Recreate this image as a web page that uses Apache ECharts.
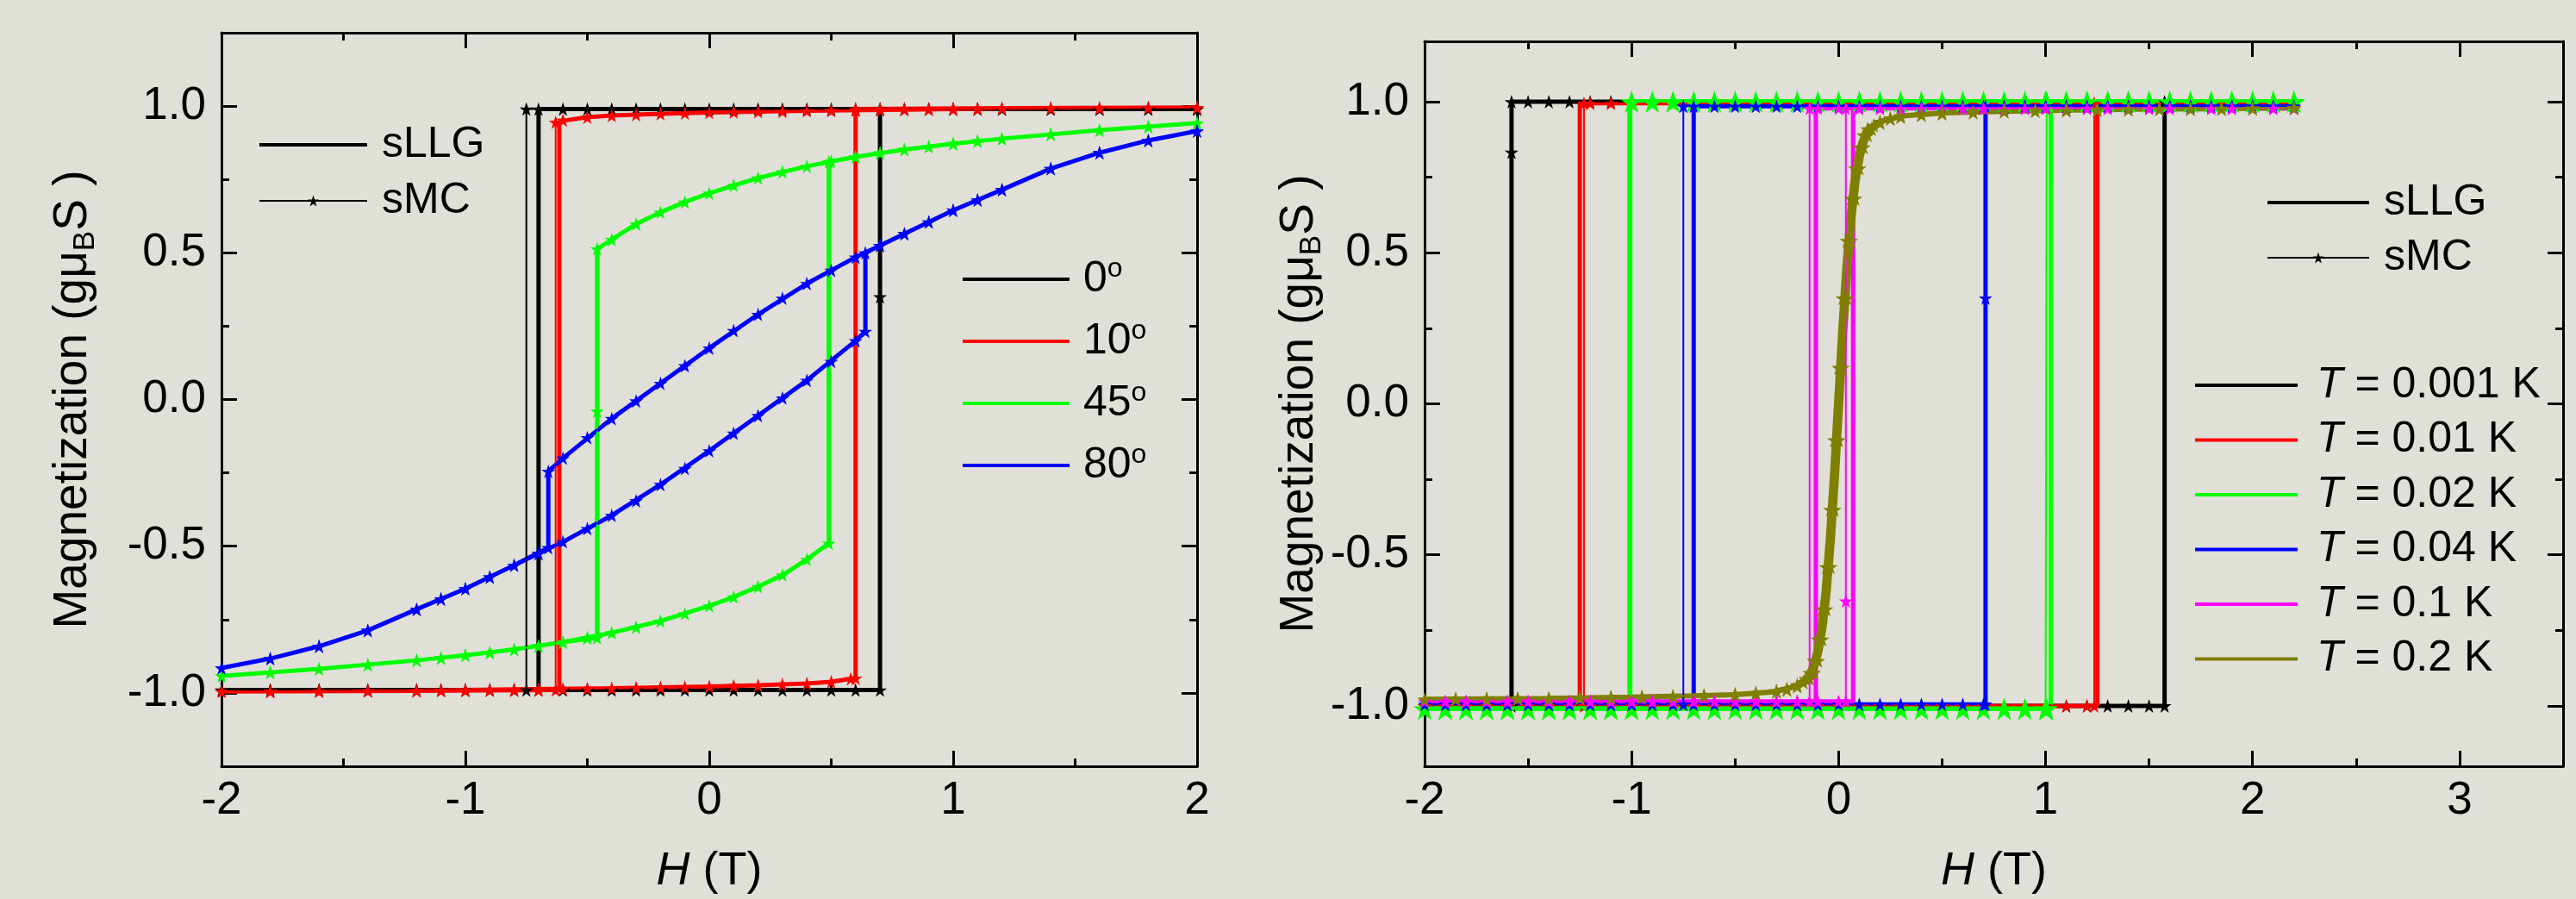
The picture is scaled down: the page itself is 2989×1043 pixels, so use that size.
<!DOCTYPE html>
<html>
<head>
<meta charset="utf-8">
<title>Magnetization loops</title>
<script src="https://cdn.jsdelivr.net/npm/echarts@6/dist/echarts.min.js"></script>
<style>
html, body { margin: 0; padding: 0; background: #e0e0d8; }
#chart { width: 2989px; height: 1043px; }
</style>
</head>
<body>
<div id="chart"></div>
<script>
// ---- left panel: loops for field angles 0, 10, 45, 80 deg ----
const angleNames = ['0°', '10°', '45°', '80°'];
const angleColors = ['#000000', '#ff0000', '#00ff00', '#0000ff'];

const llg0 = [[2,0.99],[-0.70,0.99],[-0.70,-0.99],[-2,-0.99],[0.70,-0.99],[0.70,0.99],[2,0.99]];
const mc0 = [
  [2,0.99],[1.8,0.99],[1.6,0.99],[1.4,0.99],[1.2,0.99],[1.1,0.99],[1,0.99],[0.9,0.99],[0.8,0.99],[0.7,0.99],[0.6,0.99],[0.5,0.99],[0.4,0.99],[0.3,0.99],[0.2,0.99],[0.1,0.99],[0,0.99],[-0.1,0.99],[-0.2,0.99],[-0.3,0.99],[-0.4,0.99],[-0.5,0.99],[-0.6,0.99],[-0.7,0.99],[-0.75,0.99],
  [-0.75,-0.99],[-0.8,-0.99],[-0.9,-0.99],[-1,-0.99],[-1.1,-0.99],[-1.2,-0.99],[-1.4,-0.99],[-1.6,-0.99],[-1.8,-0.99],[-2,-0.99],
  [-1.8,-0.99],[-1.6,-0.99],[-1.4,-0.99],[-1.2,-0.99],[-1.1,-0.99],[-1,-0.99],[-0.9,-0.99],[-0.8,-0.99],[-0.7,-0.99],[-0.6,-0.99],[-0.5,-0.99],[-0.4,-0.99],[-0.3,-0.99],[-0.2,-0.99],[-0.1,-0.99],[0,-0.99],[0.1,-0.99],[0.2,-0.99],[0.3,-0.99],[0.4,-0.99],[0.5,-0.99],[0.6,-0.99],[0.7,-0.99],
  [0.7,0.35],[0.7,0.99],[0.8,0.99],[0.9,0.99],[1,0.99],[1.1,0.99],[1.2,0.99],[1.4,0.99],[1.6,0.99],[1.8,0.99],[2,0.99]
];

const llg10 = [[2,0.995],[1.6,0.994],[1.2,0.992],[0.8,0.988],[0.4,0.984],[0,0.978],[-0.2,0.974],[-0.4,0.968],[-0.5,0.962],[-0.6,0.95],[-0.615,0.945],
  [-0.615,-0.99],[-1.2,-0.993],[-2,-0.995],[-1.6,-0.994],[-1.2,-0.992],[-0.8,-0.988],[-0.4,-0.984],[0,-0.978],[0.2,-0.974],[0.4,-0.968],[0.5,-0.962],[0.58,-0.952],[0.6,-0.948],
  [0.6,0.99],[1.2,0.993],[2,0.995]];
const mc10 = [
  [2,0.995],[1.8,0.995],[1.6,0.994],[1.4,0.993],[1.2,0.992],[1.1,0.991],[1,0.99],[0.9,0.989],[0.8,0.988],[0.7,0.987],[0.6,0.986],[0.5,0.985],[0.4,0.984],[0.3,0.982],[0.2,0.981],[0.1,0.98],[0,0.978],[-0.1,0.976],[-0.2,0.974],[-0.3,0.971],[-0.4,0.968],[-0.5,0.962],[-0.6,0.952],[-0.63,0.945],
  [-0.63,-0.99],[-0.7,-0.99],[-0.8,-0.991],[-0.9,-0.991],[-1,-0.992],[-1.1,-0.992],[-1.2,-0.993],[-1.4,-0.993],[-1.6,-0.994],[-1.8,-0.995],[-2,-0.995],
  [-1.8,-0.995],[-1.6,-0.994],[-1.4,-0.993],[-1.2,-0.992],[-1.1,-0.991],[-1,-0.99],[-0.9,-0.989],[-0.8,-0.988],[-0.7,-0.987],[-0.6,-0.986],[-0.5,-0.985],[-0.4,-0.984],[-0.3,-0.982],[-0.2,-0.981],[-0.1,-0.98],[0,-0.978],[0.1,-0.976],[0.2,-0.974],[0.3,-0.971],[0.4,-0.968],[0.5,-0.962],[0.58,-0.952],[0.6,-0.95],
  [0.6,0.99],[0.7,0.99],[0.8,0.991],[0.9,0.991],[1,0.992],[1.1,0.992],[1.2,0.993],[1.4,0.993],[1.6,0.994],[1.8,0.995],[2,0.995]
];

const llg45 = [[2,0.942],[1.6,0.918],[1.2,0.889],[1,0.872],[0.8,0.852],[0.6,0.827],[0.4,0.795],[0.2,0.755],[0,0.703],[-0.1,0.673],[-0.2,0.638],[-0.3,0.598],[-0.4,0.545],[-0.46,0.513],
  [-0.46,-0.812],[-0.6,-0.827],[-0.8,-0.852],[-1,-0.872],[-1.2,-0.889],[-1.6,-0.918],[-2,-0.942],[-1.6,-0.918],[-1.2,-0.889],[-1,-0.872],[-0.8,-0.852],[-0.6,-0.827],[-0.4,-0.795],[-0.2,-0.755],[0,-0.703],[0.1,-0.673],[0.2,-0.638],[0.3,-0.598],[0.4,-0.545],[0.49,-0.49],
  [0.49,0.81],[0.6,0.827],[0.8,0.852],[1,0.872],[1.2,0.889],[1.6,0.918],[2,0.942]];
const mc45 = [
  [2,0.942],[1.8,0.93],[1.6,0.918],[1.4,0.904],[1.2,0.889],[1.1,0.881],[1,0.872],[0.9,0.862],[0.8,0.852],[0.7,0.84],[0.6,0.827],[0.5,0.812],[0.4,0.795],[0.3,0.776],[0.2,0.755],[0.1,0.73],[0,0.703],[-0.1,0.673],[-0.2,0.638],[-0.3,0.598],[-0.4,0.545],[-0.46,0.513],
  [-0.46,-0.04],[-0.46,-0.812],[-0.5,-0.812],[-0.6,-0.827],[-0.7,-0.84],[-0.8,-0.852],[-0.9,-0.862],[-1,-0.872],[-1.1,-0.881],[-1.2,-0.889],[-1.4,-0.904],[-1.6,-0.918],[-1.8,-0.93],[-2,-0.942],
  [-1.8,-0.93],[-1.6,-0.918],[-1.4,-0.904],[-1.2,-0.889],[-1.1,-0.881],[-1,-0.872],[-0.9,-0.862],[-0.8,-0.852],[-0.7,-0.84],[-0.6,-0.827],[-0.5,-0.812],[-0.4,-0.795],[-0.3,-0.776],[-0.2,-0.755],[-0.1,-0.73],[0,-0.703],[0.1,-0.673],[0.2,-0.638],[0.3,-0.598],[0.4,-0.545],[0.49,-0.49],
  [0.49,0.81],[0.6,0.827],[0.7,0.84],[0.8,0.852],[0.9,0.862],[1,0.872],[1.1,0.881],[1.2,0.889],[1.4,0.904],[1.6,0.918],[1.8,0.93],[2,0.942]
];

const llg80 = [[2,0.915],[1.8,0.883],[1.6,0.841],[1.4,0.787],[1.2,0.715],[1,0.645],[0.8,0.565],[0.6,0.485],[0.4,0.395],[0.2,0.29],[0,0.175],[-0.2,0.055],[-0.4,-0.065],[-0.6,-0.2],[-0.66,-0.245],
  [-0.66,-0.505],[-0.8,-0.565],[-1,-0.645],[-1.2,-0.715],[-1.4,-0.787],[-1.6,-0.841],[-1.8,-0.883],[-2,-0.915],[-1.8,-0.883],[-1.6,-0.841],[-1.4,-0.787],[-1.2,-0.715],[-1,-0.645],[-0.8,-0.565],[-0.6,-0.485],[-0.4,-0.395],[-0.2,-0.29],[0,-0.175],[0.2,-0.055],[0.4,0.065],[0.6,0.2],[0.64,0.232],
  [0.64,0.5],[0.8,0.565],[1,0.645],[1.2,0.715],[1.4,0.787],[1.6,0.841],[1.8,0.883],[2,0.915]];
const mc80 = [
  [2,0.915],[1.8,0.883],[1.6,0.841],[1.4,0.787],[1.2,0.715],[1.1,0.68],[1,0.645],[0.9,0.605],[0.8,0.565],[0.7,0.525],[0.6,0.485],[0.5,0.44],[0.4,0.395],[0.3,0.345],[0.2,0.29],[0.1,0.235],[0,0.175],[-0.1,0.115],[-0.2,0.055],[-0.3,-0.005],[-0.4,-0.065],[-0.5,-0.13],[-0.6,-0.2],[-0.66,-0.245],
  [-0.66,-0.505],[-0.7,-0.525],[-0.8,-0.565],[-0.9,-0.605],[-1,-0.645],[-1.1,-0.68],[-1.2,-0.715],[-1.4,-0.787],[-1.6,-0.841],[-1.8,-0.883],[-2,-0.915],
  [-1.8,-0.883],[-1.6,-0.841],[-1.4,-0.787],[-1.2,-0.715],[-1.1,-0.68],[-1,-0.645],[-0.9,-0.605],[-0.8,-0.565],[-0.7,-0.525],[-0.6,-0.485],[-0.5,-0.44],[-0.4,-0.395],[-0.3,-0.345],[-0.2,-0.29],[-0.1,-0.235],[0,-0.175],[0.1,-0.115],[0.2,-0.055],[0.3,0.005],[0.4,0.065],[0.5,0.13],[0.6,0.2],[0.64,0.232],
  [0.64,0.5],[0.7,0.525],[0.8,0.565],[0.9,0.605],[1,0.645],[1.1,0.68],[1.2,0.715],[1.4,0.787],[1.6,0.841],[1.8,0.883],[2,0.915]
];

// ---- right panel: loops for temperatures ----
const tempNames = ['T = 0.001 K', 'T = 0.01 K', 'T = 0.02 K', 'T = 0.04 K', 'T = 0.1 K', 'T = 0.2 K'];
const tempColors = ['#000000', '#ff0000', '#00ff00', '#0000ff', '#ff00ff', '#808000'];

const llgA = [[2.2,1],[-1.58,1],[-1.58,-1],[-2,-1],[1.575,-1],[1.575,1],[2.2,1]];
const mcA = [
  [2.2,1],[2.1,1],[2,1],[1.9,1],[1.8,1],[1.7,1],[1.6,1],[1.5,1],[1.4,1],[1.3,1],[1.2,1],[1.1,1],[1,1],[0.9,1],[0.8,1],[0.7,1],[0.6,1],[0.5,1],[0.4,1],[0.3,1],[0.2,1],[0.1,1],[0,1],[-0.1,1],[-0.2,1],[-0.3,1],[-0.4,1],[-0.5,1],[-0.6,1],[-0.7,1],[-0.8,1],[-0.9,1],[-1,1],[-1.1,1],[-1.2,1],[-1.3,1],[-1.4,1],[-1.5,1],[-1.58,1],
  [-1.58,0.833],[-1.58,-1],[-1.6,-1],[-1.7,-1],[-1.8,-1],[-1.9,-1],[-2,-1],
  [-1.9,-1],[-1.8,-1],[-1.7,-1],[-1.6,-1],[-1.5,-1],[-1.4,-1],[-1.3,-1],[-1.2,-1],[-1.1,-1],[-1,-1],[-0.9,-1],[-0.8,-1],[-0.7,-1],[-0.6,-1],[-0.5,-1],[-0.4,-1],[-0.3,-1],[-0.2,-1],[-0.1,-1],[0,-1],[0.1,-1],[0.2,-1],[0.3,-1],[0.4,-1],[0.5,-1],[0.6,-1],[0.7,-1],[0.8,-1],[0.9,-1],[1,-1],[1.1,-1],[1.2,-1],[1.3,-1],[1.4,-1],[1.5,-1],[1.575,-1],
  [1.575,1],[1.6,1],[1.7,1],[1.8,1],[1.9,1],[2,1],[2.1,1],[2.2,1]
];

const llgB = [[2.2,0.995],[-1.25,0.995],[-1.25,-1],[-2,-1],[1.25,-1],[1.25,0.995],[2.2,0.995]];
const mcB = [
  [2.2,0.995],[2.1,0.995],[2,0.995],[1.9,0.995],[1.8,0.995],[1.7,0.995],[1.6,0.995],[1.5,0.995],[1.4,0.995],[1.3,0.995],[1.2,0.995],[1.1,0.995],[1,0.995],[0.9,0.995],[0.8,0.995],[0.7,0.995],[0.6,0.995],[0.5,0.995],[0.4,0.995],[0.3,0.995],[0.2,0.995],[0.1,0.995],[0,0.995],[-0.1,0.995],[-0.2,0.995],[-0.3,0.995],[-0.4,0.995],[-0.5,0.995],[-0.6,0.995],[-0.7,0.995],[-0.8,0.995],[-0.9,0.995],[-1,0.995],[-1.1,0.995],[-1.2,0.995],[-1.23,0.995],
  [-1.23,-1],[-1.3,-1],[-1.4,-1],[-1.5,-1],[-1.6,-1],[-1.7,-1],[-1.8,-1],[-1.9,-1],[-2,-1],
  [-1.9,-1],[-1.8,-1],[-1.7,-1],[-1.6,-1],[-1.5,-1],[-1.4,-1],[-1.3,-1],[-1.2,-1],[-1.1,-1],[-1,-1],[-0.9,-1],[-0.8,-1],[-0.7,-1],[-0.6,-1],[-0.5,-1],[-0.4,-1],[-0.3,-1],[-0.2,-1],[-0.1,-1],[0,-1],[0.1,-1],[0.2,-1],[0.3,-1],[0.4,-1],[0.5,-1],[0.6,-1],[0.7,-1],[0.8,-1],[0.9,-1],[1,-1],[1.1,-1],[1.2,-1],[1.235,-1],
  [1.235,0.995],[1.3,0.995],[1.4,0.995],[1.5,0.995],[1.6,0.995],[1.7,0.995],[1.8,0.995],[1.9,0.995],[2,0.995],[2.1,0.995],[2.2,0.995]
];

const llgC = [[2.2,1],[-1.01,1],[-1.01,-1.01],[-2,-1.01],[1.025,-1.01],[1.025,1],[2.2,1]];
const mcC = [
  [2.2,1],[2.1,1],[2,1],[1.9,1],[1.8,1],[1.7,1],[1.6,1],[1.5,1],[1.4,1],[1.3,1],[1.2,1],[1.1,1],[1,1],[0.9,1],[0.8,1],[0.7,1],[0.6,1],[0.5,1],[0.4,1],[0.3,1],[0.2,1],[0.1,1],[0,1],[-0.1,1],[-0.2,1],[-0.3,1],[-0.4,1],[-0.5,1],[-0.6,1],[-0.7,1],[-0.8,1],[-0.9,1],[-1,1],
  [-1,-1.01],[-1.1,-1.01],[-1.2,-1.01],[-1.3,-1.01],[-1.4,-1.01],[-1.5,-1.01],[-1.6,-1.01],[-1.7,-1.01],[-1.8,-1.01],[-1.9,-1.01],[-2,-1.01],
  [-1.9,-1.01],[-1.8,-1.01],[-1.7,-1.01],[-1.6,-1.01],[-1.5,-1.01],[-1.4,-1.01],[-1.3,-1.01],[-1.2,-1.01],[-1.1,-1.01],[-1,-1.01],[-0.9,-1.01],[-0.8,-1.01],[-0.7,-1.01],[-0.6,-1.01],[-0.5,-1.01],[-0.4,-1.01],[-0.3,-1.01],[-0.2,-1.01],[-0.1,-1.01],[0,-1.01],[0.1,-1.01],[0.2,-1.01],[0.3,-1.01],[0.4,-1.01],[0.5,-1.01],[0.6,-1.01],[0.7,-1.01],[0.8,-1.01],[0.9,-1.01],[1,-1.01],[1.005,-1.01],
  [1.005,1],[1.1,1],[1.2,1],[1.3,1],[1.4,1],[1.5,1],[1.6,1],[1.7,1],[1.8,1],[1.9,1],[2,1],[2.1,1],[2.2,1]
];

const llgD = [[2.2,0.985],[-0.70,0.985],[-0.70,-0.995],[-2,-0.995],[0.71,-0.995],[0.71,0.985],[2.2,0.985]];
const mcD = [
  [2.2,0.985],[2.1,0.985],[2,0.985],[1.9,0.985],[1.8,0.985],[1.7,0.985],[1.6,0.985],[1.5,0.985],[1.4,0.985],[1.3,0.985],[1.2,0.985],[1.1,0.985],[1,0.985],[0.9,0.985],[0.8,0.985],[0.7,0.985],[0.6,0.985],[0.5,0.985],[0.4,0.985],[0.3,0.985],[0.2,0.985],[0.1,0.985],[0,0.985],[-0.1,0.985],[-0.2,0.985],[-0.3,0.985],[-0.4,0.985],[-0.5,0.985],[-0.6,0.985],[-0.7,0.985],[-0.75,0.985],
  [-0.75,-0.995],[-0.8,-0.995],[-0.9,-0.995],[-1,-0.995],[-1.1,-0.995],[-1.2,-0.995],[-1.3,-0.995],[-1.4,-0.995],[-1.5,-0.995],[-1.6,-0.995],[-1.7,-0.995],[-1.8,-0.995],[-1.9,-0.995],[-2,-0.995],
  [-1.9,-0.995],[-1.8,-0.995],[-1.7,-0.995],[-1.6,-0.995],[-1.5,-0.995],[-1.4,-0.995],[-1.3,-0.995],[-1.2,-0.995],[-1.1,-0.995],[-1,-0.995],[-0.9,-0.995],[-0.8,-0.995],[-0.7,-0.995],[-0.6,-0.995],[-0.5,-0.995],[-0.4,-0.995],[-0.3,-0.995],[-0.2,-0.995],[-0.1,-0.995],[0,-0.995],[0.1,-0.995],[0.2,-0.995],[0.3,-0.995],[0.4,-0.995],[0.5,-0.995],[0.6,-0.995],[0.7,-0.995],[0.71,-0.995],
  [0.71,0.35],[0.71,0.985],[0.8,0.985],[0.9,0.985],[1,0.985],[1.1,0.985],[1.2,0.985],[1.3,0.985],[1.4,0.985],[1.5,0.985],[1.6,0.985],[1.7,0.985],[1.8,0.985],[1.9,0.985],[2,0.985],[2.1,0.985],[2.2,0.985]
];

const llgE = [[2.2,0.978],[-0.11,0.978],[-0.11,-0.985],[-2,-0.985],[0.07,-0.985],[0.07,0.978],[2.2,0.978]];
const mcE = [
  [2.2,0.978],[2.1,0.978],[2,0.978],[1.9,0.978],[1.8,0.978],[1.7,0.978],[1.6,0.978],[1.5,0.978],[1.4,0.978],[1.3,0.978],[1.2,0.978],[1.1,0.978],[1,0.978],[0.9,0.978],[0.8,0.978],[0.7,0.978],[0.6,0.978],[0.5,0.978],[0.4,0.978],[0.3,0.978],[0.2,0.978],[0.1,0.978],[0,0.978],[-0.1,0.978],[-0.14,0.978],
  [-0.14,-0.985],[-0.2,-0.985],[-0.3,-0.985],[-0.4,-0.985],[-0.5,-0.985],[-0.6,-0.985],[-0.7,-0.985],[-0.8,-0.985],[-0.9,-0.985],[-1,-0.985],[-1.1,-0.985],[-1.2,-0.985],[-1.3,-0.985],[-1.4,-0.985],[-1.5,-0.985],[-1.6,-0.985],[-1.7,-0.985],[-1.8,-0.985],[-1.9,-0.985],[-2,-0.985],
  [-1.9,-0.985],[-1.8,-0.985],[-1.7,-0.985],[-1.6,-0.985],[-1.5,-0.985],[-1.4,-0.985],[-1.3,-0.985],[-1.2,-0.985],[-1.1,-0.985],[-1,-0.985],[-0.9,-0.985],[-0.8,-0.985],[-0.7,-0.985],[-0.6,-0.985],[-0.5,-0.985],[-0.4,-0.985],[-0.3,-0.985],[-0.2,-0.985],[-0.1,-0.985],[0,-0.985],[0.035,-0.985],
  [0.035,-0.653],[0.035,0.978],[0.1,0.978],[0.2,0.978],[0.3,0.978],[0.4,0.978],[0.5,0.978],[0.6,0.978],[0.7,0.978],[0.8,0.978],[0.9,0.978],[1,0.978],[1.1,0.978],[1.2,0.978],[1.3,0.978],[1.4,0.978],[1.5,0.978],[1.6,0.978],[1.7,0.978],[1.8,0.978],[1.9,0.978],[2,0.978],[2.1,0.978],[2.2,0.978]
];

const llgF = [
  [2.2,0.98],[1.8,0.977],[1.4,0.975],[1,0.971],[0.7,0.967],[0.5,0.963],[0.3,0.953],[0.2,0.935],[0.14,0.91],[0.11,0.87],[0.09,0.82],[0.07,0.74],[0.05,0.62],[0.03,0.45],[0.01,0.24],[-0.01,0],[-0.03,-0.24],[-0.05,-0.45],[-0.07,-0.62],[-0.09,-0.74],[-0.11,-0.82],[-0.13,-0.87],[-0.16,-0.91],[-0.21,-0.935],[-0.31,-0.953],[-0.51,-0.963],[-0.71,-0.967],[-1.01,-0.971],[-1.41,-0.975],[-2,-0.978],
  [-1.4,-0.975],[-1,-0.971],[-0.7,-0.967],[-0.5,-0.963],[-0.3,-0.953],[-0.2,-0.935],[-0.14,-0.91],[-0.11,-0.87],[-0.09,-0.82],[-0.07,-0.74],[-0.05,-0.62],[-0.03,-0.45],[-0.01,-0.24],[0.01,0],[0.03,0.24],[0.05,0.45],[0.07,0.62],[0.09,0.74],[0.11,0.82],[0.13,0.87],[0.16,0.91],[0.21,0.935],[0.31,0.953],[0.51,0.963],[0.71,0.967],[1.01,0.971],[1.41,0.975],[1.81,0.977],[2.2,0.98]
];
const mcF = [
  [2.2,0.98],[2,0.979],[1.85,0.978],[1.7,0.977],[1.55,0.976],[1.4,0.975],[1.25,0.974],[1.1,0.972],[0.95,0.971],[0.8,0.969],[0.65,0.966],[0.5,0.963],[0.4,0.959],[0.3,0.953],[0.25,0.946],[0.2,0.935],[0.17,0.922],[0.14,0.91],[0.12,0.89],[0.1,0.85],[0.08,0.78],[0.06,0.68],[0.04,0.54],[0.02,0.35],[0,0.12],[-0.02,-0.12],[-0.04,-0.35],[-0.06,-0.54],[-0.08,-0.68],[-0.1,-0.78],[-0.12,-0.85],[-0.14,-0.89],[-0.16,-0.91],[-0.2,-0.93],[-0.25,-0.944],[-0.3,-0.95],[-0.4,-0.957],[-0.5,-0.961],[-0.65,-0.965],[-0.8,-0.968],[-0.95,-0.97],[-1.1,-0.972],[-1.25,-0.973],[-1.4,-0.975],[-1.55,-0.976],[-1.7,-0.977],[-1.85,-0.977],[-2,-0.978],
  [-1.85,-0.978],[-1.7,-0.977],[-1.55,-0.976],[-1.4,-0.975],[-1.25,-0.974],[-1.1,-0.972],[-0.95,-0.971],[-0.8,-0.969],[-0.65,-0.966],[-0.5,-0.963],[-0.4,-0.959],[-0.3,-0.953],[-0.25,-0.946],[-0.2,-0.935],[-0.17,-0.922],[-0.14,-0.91],[-0.12,-0.89],[-0.1,-0.85],[-0.08,-0.78],[-0.06,-0.68],[-0.04,-0.54],[-0.02,-0.35],[0,-0.12],[0.02,0.12],[0.04,0.35],[0.06,0.54],[0.08,0.68],[0.1,0.78],[0.12,0.85],[0.14,0.89],[0.16,0.91],[0.2,0.93],[0.25,0.944],[0.3,0.95],[0.4,0.957],[0.5,0.961],[0.65,0.965],[0.8,0.968],[0.95,0.97],[1.1,0.972],[1.25,0.973],[1.4,0.975],[1.55,0.976],[1.7,0.977],[1.85,0.977],[2,0.978],[2.2,0.98]
];

const font = 'Liberation Sans, Arial, sans-serif';
const star = 'path://M12,0L14.8,8.6L23.4,8.6L16.3,13.9L19,22.4L12,17.2L5,22.4L7.7,13.9L0.6,8.6L9.2,8.6Z';

function llgSeries(name, data, color, axis, width) {
  return {
    name: name, type: 'line', data: data, xAxisIndex: axis, yAxisIndex: axis,
    symbol: 'none', silent: true, z: 2,
    lineStyle: { color: color, width: width }, itemStyle: { color: color }
  };
}
function mcSeries(name, data, color, axis, size) {
  return {
    name: name, type: 'line', data: data, xAxisIndex: axis, yAxisIndex: axis,
    symbol: star, symbolSize: size, silent: true, z: 3,
    lineStyle: { color: color, width: 2 }, itemStyle: { color: color }
  };
}

const tickCommon = {
  axisLine: { show: true, onZero: false, lineStyle: { color: '#000', width: 3 } },
  axisTick: { show: true, inside: true, length: 18, lineStyle: { color: '#000', width: 3 } },
  minorTick: { show: true, splitNumber: 2, length: 9, lineStyle: { color: '#000', width: 3 } },
  splitLine: { show: false }
};
const labelStyle = { fontSize: 53, color: '#000', fontFamily: font };
const nameStyleX = { fontSize: 54, color: '#000', fontFamily: font, rich: { it: { fontSize: 54, fontStyle: 'italic', fontFamily: font } } };
const nameStyleY = { fontSize: 55, color: '#000', fontFamily: font, lineHeight: 64, rich: { sub: { fontSize: 35, fontFamily: font, verticalAlign: 'bottom', lineHeight: 40 } } };

function xPair(grid, min, max, interval, showMax, gap) {
  const base = Object.assign({ type: 'value', gridIndex: grid, min: min, max: max }, tickCommon);
  if (interval) base.interval = interval; else base.splitNumber = 5;
  return [
    Object.assign({}, base, {
      position: 'bottom',
      axisLabel: Object.assign({ margin: 14, showMaxLabel: showMax }, labelStyle),
      name: '{it|H} (T)', nameLocation: 'middle', nameGap: gap, nameTextStyle: nameStyleX
    }),
    Object.assign({}, base, { position: 'top', axisLabel: { show: false } })
  ];
}
function yPair(grid, min, max, gap) {
  const base = Object.assign({ type: 'value', gridIndex: grid, min: min, max: max, splitNumber: 5 }, tickCommon);
  return [
    Object.assign({}, base, {
      position: 'left',
      axisLabel: Object.assign({ margin: 18, showMinLabel: false, showMaxLabel: false, formatter: v => v.toFixed(1) }, labelStyle),
      name: 'Magnetization (gμ{sub|B}S )', nameLocation: 'middle', nameRotate: 90, nameGap: gap, nameTextStyle: nameStyleY
    }),
    Object.assign({}, base, { position: 'right', axisLabel: { show: false } })
  ];
}

const legendText = {
  fontSize: 50, color: '#000', fontFamily: font, lineHeight: 56,
  rich: {
    sup: { fontSize: 32, fontFamily: font, verticalAlign: 'top', lineHeight: 30 },
    it: { fontSize: 50, fontFamily: font, fontStyle: 'italic', lineHeight: 56 }
  }
};
function legendBox(left, top, gap, width, textGap, names, icon) {
  const lg = {
    orient: 'vertical', left: left, top: top, padding: 0, itemGap: gap,
    itemWidth: width, itemHeight: 16, selectedMode: false,
    textStyle: Object.assign({}, legendText, { padding: [0, 0, 0, textGap] }),
    data: names,
    formatter: function (name) {
      if (name.indexOf('°') >= 0) return name.replace('°', '') + '{sup|o}';
      if (name.indexOf('T =') === 0) return '{it|T}' + name.slice(1);
      return name;
    }
  };
  if (icon) lg.icon = icon;
  return lg;
}
const barIcon = w => 'path://M0,0L' + w + ',0L' + w + ',4L0,4Z';

const series = [
  llgSeries('sLLG', [], '#000', 0, 4),
  mcSeries('sMC', [], '#000', 0, 14)
];
[llg0, llg10, llg45, llg80].forEach((d, i) => series.push(llgSeries(angleNames[i], d, angleColors[i], 0, 5)));
[mc0, mc10, mc45, mc80].forEach((d, i) => series.push(mcSeries(angleNames[i] + ' sMC', d, angleColors[i], 0, 16)));
const llgRight = [llgA, llgB, llgC, llgD, llgE, llgF];
const mcRight = [mcA, mcB, mcC, mcD, mcE, mcF];
const mcSizes = [16, 16, 26, 16, 16, 17];
llgRight.forEach((d, i) => {
  series.push(llgSeries(tempNames[i], d, tempColors[i], 2, i === 5 ? 6 : 5));
  series.push(mcSeries(tempNames[i] + ' sMC', mcRight[i], tempColors[i], 2, mcSizes[i]));
});

const chart = echarts.init(document.getElementById('chart'));
chart.setOption({
  backgroundColor: '#e0e0d8',
  animation: false,
  textStyle: { fontFamily: font },
  grid: [
    { left: 257, top: 38, width: 1132, height: 855 },
    { left: 1653, top: 48, width: 1321, height: 843 }
  ],
  xAxis: xPair(0, -2, 2, 1, true, 95).concat(xPair(1, -2, 3.5, null, false, 95)),
  yAxis: yPair(0, -1.25, 1.25, 140).concat(yPair(1, -1.2, 1.2, 110)),
  legend: [
    legendBox(300, 140, 9, 125, 12, [{ name: 'sLLG', icon: barIcon(125) }, { name: 'sMC' }]),
    legendBox(1117, 296, 16, 124, 11, angleNames, barIcon(124)),
    legendBox(2630, 207, 8, 118, 12, [{ name: 'sLLG', icon: barIcon(118) }, { name: 'sMC' }]),
    legendBox(2547, 419, 7.5, 119, 17, tempNames, barIcon(119))
  ],
  series: series
});
</script>
</body>
</html>
